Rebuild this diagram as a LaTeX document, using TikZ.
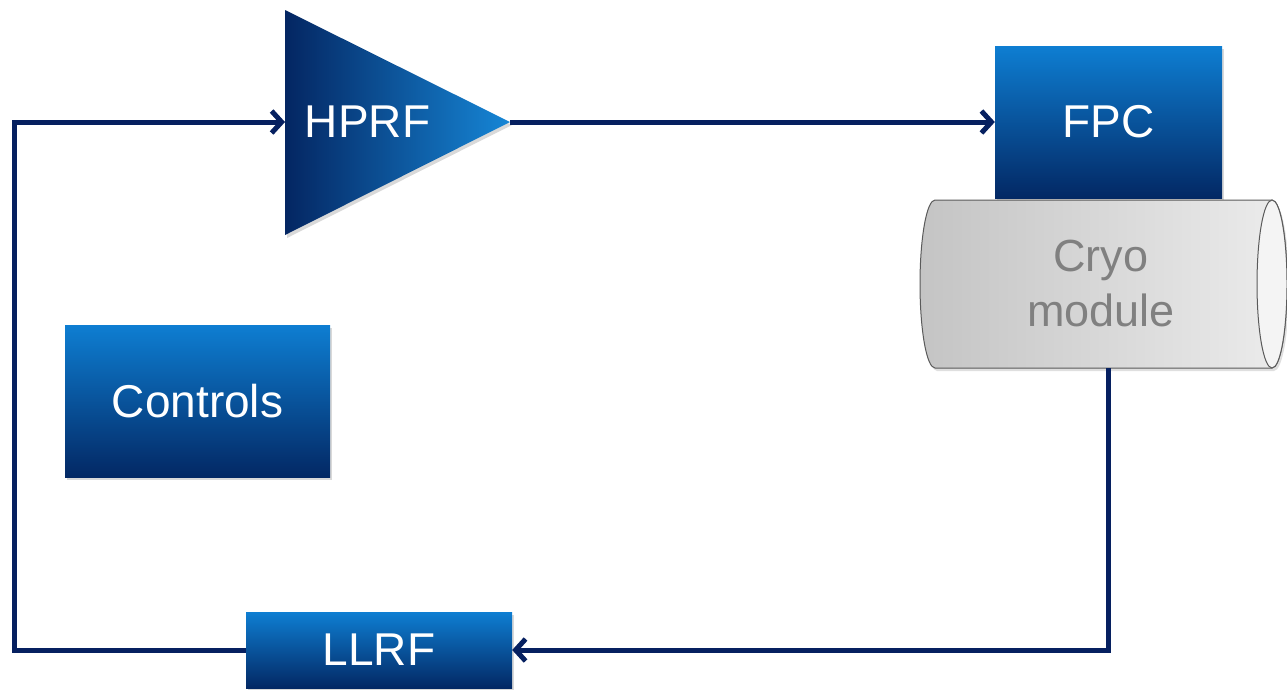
\documentclass[tikz,border=0pt]{standalone}
\usepackage{fontspec}
\setmainfont{Liberation Sans}
\usetikzlibrary{arrows.meta,shadows}
\definecolor{navy}{RGB}{6,32,96}
\definecolor{boxtop}{RGB}{14,126,210}
\definecolor{boxbot}{RGB}{3,40,100}
\definecolor{trileft}{RGB}{4,38,98}
\definecolor{triright}{RGB}{22,134,214}
\definecolor{cryoL}{RGB}{196,196,196}
\definecolor{cryoR}{RGB}{236,236,236}
\definecolor{cryoend}{RGB}{244,244,244}
\definecolor{cryoedge}{RGB}{90,90,90}
\definecolor{cryotext}{RGB}{128,128,128}
\tikzset{
  bluebox/.style={rectangle, draw=none, top color=boxtop, bottom color=boxbot,
    text=white, font=\fontsize{46}{50}\selectfont, inner sep=0pt,
    drop shadow={shadow xshift=2pt, shadow yshift=-3pt, opacity=0.3}},
  conn/.style={draw=navy, line width=5pt, line join=miter},
  arr/.style={-{Straight Barb[length=10pt,width=22pt]}},
  lbl/.style={text=white, font=\fontsize{46}{50}\selectfont, inner sep=0pt},
}
\begin{document}
\begin{tikzpicture}[x=1pt,y=-1pt]
\useasboundingbox (0,0) rectangle (1287,689);
% HPRF amplifier triangle
\path[left color=trileft, right color=triright,
      drop shadow={shadow xshift=2pt, shadow yshift=-3pt, opacity=0.3}]
  (285,10) -- (510,122) -- (285,235) -- cycle;
\node[lbl] (hprf) at (367.5,121.5) {HPRF};
\coordinate (hprfin) at (285,122);
\coordinate (hprfout) at (510,122);
% FPC
\node[bluebox, minimum width=227pt, minimum height=152pt] (fpc) at (1108.5,122) {FPC};
% Cryo module cylinder
\path[left color=cryoL, right color=cryoR, draw=cryoedge, line width=1pt,
      drop shadow={shadow xshift=2pt, shadow yshift=-3pt, opacity=0.25}]
  (935,200) -- (1272,200)
  .. controls (1280.3,200) and (1287,237.6) .. (1287,284)
  .. controls (1287,330.4) and (1280.3,368) .. (1272,368)
  -- (935,368)
  .. controls (926.7,368) and (920,330.4) .. (920,284)
  .. controls (920,237.6) and (926.7,200) .. (935,200) -- cycle;
\draw[fill=cryoend, draw=cryoedge, line width=1pt] (1272,284) ellipse [x radius=15, y radius=84];
\node[text=cryotext, font=\fontsize{45}{55}\selectfont, align=center, inner sep=0pt] (cryo) at (1101,284) {Cryo\\module};
\coordinate (cryobot) at (1108,368);
% Controls
\node[bluebox, minimum width=265pt, minimum height=152pt] (controls) at (197.5,401) {Controls};
% LLRF
\node[bluebox, minimum width=266pt, minimum height=76pt] (llrf) at (379,650) {LLRF};
\coordinate (lcorner) at (14,122);
% connectors
\draw[conn,arr] (hprfout) -- (fpc.west);
\draw[conn,arr] (cryobot) |- (llrf.east);
\draw[conn,arr] (llrf.west) -| (lcorner) -- (hprfin);
\end{tikzpicture}
\end{document}
